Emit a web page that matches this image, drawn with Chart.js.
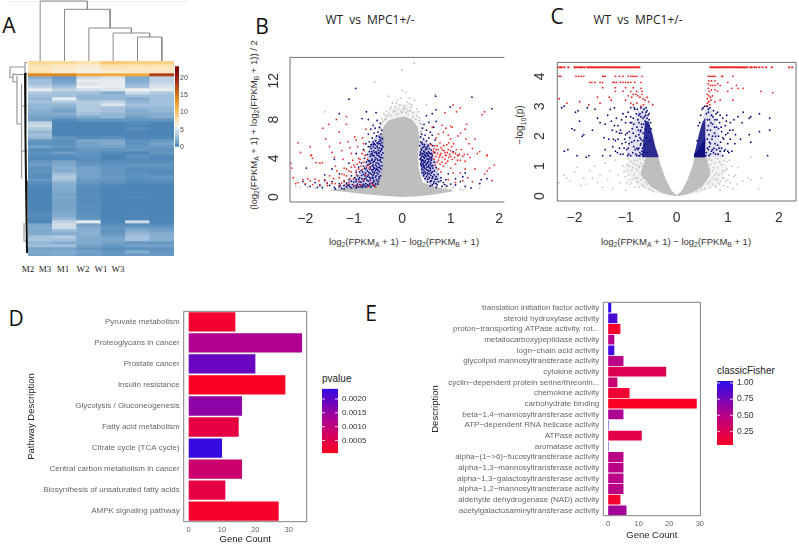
<!DOCTYPE html>
<html>
<head>
<meta charset="utf-8">
<script src="https://cdn.jsdelivr.net/npm/chart.js@4"></script>
<style>
  html, body { margin: 0; background: #fff; overflow: hidden; }
  #page { position: relative; width: 799px; height: 545px; }
  canvas { position: absolute; filter: blur(0.45px); }
  .t { position: absolute; white-space: nowrap; font-family: "Liberation Sans", sans-serif; color: #333; transform: translate(-50%, -50%); }
  .t sub { font-size: 70%; line-height: 0; }
  .panel { font-family: "Open Sans", sans-serif; font-size: 21px; color: #111; }
  .head { font-family: "Open Sans", sans-serif; font-size: 12px; color: #222; word-spacing: 3px; }
  .col { font-family: "Liberation Serif", serif; font-size: 9px; color: #222; }
  .rot { transform: translate(-50%, -50%) rotate(-90deg); }
  .leg { font-size: 10px; color: #222; transform: translate(0, -50%); }
</style>
</head>
<body>
<div id="page">
  <div style="position:absolute;left:8px;top:1px;width:180px;height:1px;background:#eee"></div>
  <div class="t panel" style="left:9px;top:25px">A</div>
  <div class="t panel" style="left:262px;top:26px">B</div>
  <div class="t panel" style="left:557px;top:16px">C</div>
  <div class="t panel" style="left:16px;top:318px">D</div>
  <div class="t panel" style="left:371px;top:313px">E</div>
  <div class="t head" style="left:370px;top:19px">WT vs MPC1+/-</div>
  <div class="t head" style="left:638px;top:19px">WT vs MPC1+/-</div>
  <div class="t col" style="left:28px;top:269px">M2</div>
  <div class="t col" style="left:45px;top:269px">M3</div>
  <div class="t col" style="left:63px;top:269px">M1</div>
  <div class="t col" style="left:83px;top:269px">W2</div>
  <div class="t col" style="left:101px;top:269px">W1</div>
  <div class="t col" style="left:118px;top:269px">W3</div>
  <div class="t rot" style="left:253px;top:125px;font-size:9.5px">(log<sub>2</sub>(FPKM<sub>A</sub> + 1) + log<sub>2</sub>(FPKM<sub>B</sub> + 1)) / 2</div>
  <div class="t" style="left:404px;top:241px;font-size:9.5px">log<sub>2</sub>(FPKM<sub>A</sub> + 1) &minus; log<sub>2</sub>(FPKM<sub>B</sub> + 1)</div>
  <div class="t rot" style="left:519px;top:125px;font-size:10px">&minus;log<sub>10</sub>(p)</div>
  <div class="t" style="left:676px;top:241px;font-size:9.5px">log<sub>2</sub>(FPKM<sub>A</sub> + 1) &minus; log<sub>2</sub>(FPKM<sub>B</sub> + 1)</div>
  <div class="t leg" style="left:322px;top:378px">pvalue</div>
  <div class="t leg" style="left:717px;top:370px">classicFisher</div>
</div>
<script>
// panel A
const heatColumns = ['M2', 'M3', 'M1', 'W2', 'W1', 'W3'];
const heatRows = [
  [8.6,8.6,8,9.6,9.2,9.2],[8,7.4,7,8,8,8],[7.6,7.2,6.6,7.4,7.4,7.4],[8,7,6.6,7,7.4,7.4],[14,14,12,12,12,18],
  [2.2,1.2,4.5,5,1.8,4],[3,1.5,5.5,5.5,2,4],[3,2,5,5.5,2.5,4.5],[4,3,5.8,5.5,3,5],[5.5,4,4.5,5,5.8,5.5],
  [3.5,3,3,2,4.5,3.5],[3,3,2.5,2.5,3,3],[2.5,5.5,2.5,2.5,2,3],[3,3.5,3.5,4,2.5,3],[2.5,2.5,3.5,5,3,3],
  [2.5,2,3.5,3,2.5,2.5],[2,1.5,3.5,3,2,2.5],[2,2,3,2.5,2,2],[1.5,1.5,2,2.5,1.5,2],[1.5,0.5,1,1,1,1],
  [4,0.2,0.2,0.2,0.5,0.2],[4.5,0.2,0.2,0.2,0.3,0.2],[3.5,0.2,0.2,0.2,0.6,0.2],[2.5,0.2,0.2,0.2,0.2,0.2],[3,0.2,0.2,0.2,0.3,0.2],
  [2.5,1,0.5,0.7,0.3,0.3],[1,0.7,1.8,1.8,0.8,1.2],[0.8,0.8,1.5,2,0.8,1.5],[1.5,1,1.5,1.5,1,1.2],[0.5,0.5,1,1,1,0.8],
  [0.8,1.3,0.8,0.5,0.3,1],[0.5,0.5,0.8,0.2,0.8,0.4],[0.4,0.4,0.5,0.2,0.5,0.3],[1,1.6,0.8,0.6,0.5,0.5],[1.3,1.8,1,0.8,1,1],
  [0.8,2.2,1.5,1,0.7,0.7],[0.9,2,1.5,1,0.5,0.5],[0.8,2.8,1.6,1,0.8,0.5],[0.5,3.5,1.5,1.2,0.8,1],[1,3.2,1.2,1,0.6,0.8],
  [0.6,2.2,1,0.7,0.4,0.4],[0.3,2,0.6,0.3,0.2,0.2],[0.2,2,0.5,0.2,0.2,0.2],[0.2,1.8,0.5,0.2,0.3,0.2],[0.2,1.5,0.5,0.2,0.2,0.2],
  [0.2,1.8,0.6,0.2,0.4,0.2],[0.2,1.6,0.5,0.2,0.2,0.2],[0.2,1.6,0.5,0.2,0.2,0.2],[0.2,1.5,0.7,0.2,0.2,0.2],[0.2,1.6,0.5,0.2,0.3,0.2],
  [0.5,1.8,0.7,0.2,0.2,0.2],[0.5,2,0.7,0.2,0.2,0.2],[0.4,2.5,1,0.2,0.3,0.2],[0.3,4,5.5,0.2,4.5,0.2],[1.8,4.5,1.5,0.6,0.6,0.5],
  [2,4.5,2,1,1.3,1.2],[1.8,2.5,2.2,0.8,2,1.5],[2,2,2.2,1,2.5,2],[3,3.5,2,1.5,3,2.2],[3.2,3,1.8,1.8,3,2.2],
  [2.5,2,2,1.5,1,1],[2.8,3,1.5,1,1.5,1.5],[1.5,1.5,1,0.6,0.8,0.8],[1.8,2,1.5,1,2,1],[1.6,1.8,1.3,1,1.2,1.2]
];
const heatTicks = [0, 5, 10, 15, 20];
// column tree: [column, height] polylines
const topTree = [
  [[4.5,0],[4.5,24],[5.5,24],[5.5,0]],
  [[3.5,0],[3.5,28],[5,28],[5,24]],
  [[2.5,0],[2.5,33],[4.25,33],[4.25,28]],
  [[1.5,0],[1.5,51.7],[3.375,51.7],[3.375,33]],
  [[0.5,0],[0.5,60],[2.44,60],[2.44,51.7]]
];
// row tree: [height, row] polylines
const sideTree = [
  [[18,0.5],[16,0.5],[16,4],[18,4]],
  [[16,2],[1,2],[1,5.5],[4,5.5]],
  [[4,4],[4,7],[8,7]],
  [[4,4.5],[18,4.5]],
  [[8,5],[8,21],[12.5,21]],
  [[12.5,7.5],[12.5,39],[13.5,39]],
  [[13.5,15],[18,15]],
  [[12.5,30],[18,30]],
  [[16,39],[17.5,39],[17.5,54]],
  [[15,54],[15,60],[18,60]]
];
const sideStem = [[16,4],[16.3,10],[16.6,25],[17,40],[17.6,54],[18,64]];

// panel B
const bCoreTop = [-1.5,0.75,-1.2,0.95,-0.9,1.1,-0.65,1.3,-0.46,2,-0.4,3.5,-0.38,5,-0.42,6.3,-0.38,7.3,-0.28,7.9,-0.1,8.2,0.05,8.3,0.2,8,0.32,7.2,0.36,6,0.33,4.6,0.34,3,0.42,1.5,0.7,1.05,1.05,0.65];
const bCoreBottom = [-1.5,0.7,-1.1,0.5,-0.7,0.28,-0.35,0.12,0,0.02,0.35,0.1,0.7,0.3,1.05,0.6];
const bHaloTop = [-0.45,6,-0.42,7.5,-0.3,8.8,-0.1,9.6,0.1,9.6,0.3,8.8,0.4,7.5,0.42,6];
const bHaloBottom = [-0.45,6,0.42,6];
const bLeftDenseTop = [-1.3,1,-1,2,-0.8,2.8,-0.72,4.2,-0.66,5.5,-0.55,6.3,-0.42,6.6,-0.38,6];
const bLeftDenseBottom = [-1.3,1,-1,0.9,-0.7,1,-0.55,1.1,-0.47,1.5,-0.42,2.5,-0.38,4,-0.38,6];
const bRightDenseTop = [0.36,5.5,0.42,6,0.5,5.7,0.58,5.2,0.65,4.5,0.7,3.5,0.75,2.5,0.8,1.5];
const bRightDenseBottom = [0.36,5.5,0.36,3.5,0.4,2.2,0.5,1.6,0.6,1.2,0.8,1.5];
const bGrey = [0,13.1,0.25,13.8,-0.57,11.9,-0.28,10.4,0.07,10.8,0.15,10.2,-0.1,10,0,11,0.1,9.8,-0.2,9.7,0.25,10,-0.05,9.5,0.05,9.4,-0.15,9.3,0.18,9.3,0.3,9.1,-0.25,9.1,0.02,9,-0.08,9.1,0.12,8.9,-0.32,8.9,-0.38,8.6,0.22,8.7,-0.18,8.8,0.08,8.7,-0.03,8.8,0.3,8.4,-0.3,8.4,-0.42,8.1,0.36,7.9,0.4,7.5,-0.45,7.6,-0.48,7,0.4,6.8,-0.47,6.4,0.42,6.4,-1.6,8.8,0.5,9.5,0.68,10.6,0.72,1,0.9,0.95,1.2,0.85,1.25,0.7,1.6,1.4,1.6,0.95,-2.1,1,-2.2,1.1,-1.95,1,-1.8,0.95,-1.65,0.85,0.85,1.3,0.7,1.5,0.6,1.7,0.55,2.1,1.05,1,1,0.8,0.78,0.7,0.55,1,0.5,1.3,0.48,1.8,-0.55,1,-0.6,1.1,-0.75,0.8,-0.85,0.9];
const bGreyExtra = [-0.33,8.1,-0.22,8.4,-0.12,8.5,0,8.7,0.12,8.5,0.22,8.3,0.28,8,0.35,8.2,-0.27,8.6,-0.15,8.9,0.03,9.2,0.17,8.9,-0.4,7.8,-0.36,8,0.37,7.6,0.4,7.1,-0.44,7.1,-0.42,6.7,0.38,6.7,0.15,9.6,-0.03,10.2,-0.12,9.7,0.2,9.5,0.33,8.8,-0.23,9.3,-0.35,8.4,0.08,9.1,-0.08,8.6];
const bBlue = [-0.45,7.6,-0.52,7.9,-0.6,7.4,-0.47,7.2,-0.56,7.1,-0.65,7,-0.42,6.9,-0.5,6.7,-0.58,6.6,-0.44,6.5,-0.7,6.5,-0.53,6.3,-0.47,6.2,-0.62,6.1,-0.41,6,-0.46,5.9,-0.55,5.8,-0.68,5.7,-0.6,5.7,-0.42,5.6,-0.5,5.5,-0.58,5.5,-0.64,5.4,-0.75,5.5,-0.44,5.35,-0.52,5.25,-0.6,5.2,-0.7,5.2,-0.4,5.15,-0.47,5.05,-0.56,5.05,-0.64,5,-0.8,4.9,-0.42,4.9,-0.5,4.85,-0.59,4.8,-0.68,4.7,-0.45,4.7,-0.54,4.65,-0.4,4.55,-0.48,4.5,-0.62,4.5,-0.72,4.4,-0.43,4.35,-0.52,4.35,-0.58,4.25,-0.66,4.2,-0.47,4.15,-0.41,4.05,-0.55,4.05,-0.78,4,-0.62,3.95,-0.45,3.9,-0.5,3.8,-0.7,3.75,-0.58,3.7,-0.43,3.6,-0.54,3.55,-0.65,3.5,-0.84,3.5,-0.48,3.4,-0.6,3.35,-0.72,3.3,-0.42,3.25,-0.53,3.2,-0.66,3.1,-0.9,3.1,-0.47,3.05,-0.58,3,-0.78,3,-0.44,2.9,-0.52,2.85,-0.63,2.8,-0.72,2.7,-0.85,2.75,-0.47,2.6,-0.57,2.55,-0.95,2.55,-0.66,2.45,-0.5,2.35,-0.8,2.35,-0.6,2.25,-0.45,2.2,-0.72,2.15,-1.05,2.2,-0.55,2.05,-0.88,2,-0.65,1.95,-0.48,1.9,-0.78,1.85,-0.95,1.8,-1.1,1.8,-0.58,1.7,-0.7,1.65,-0.5,1.6,-0.85,1.55,-1,1.55,-1.2,1.6,-0.62,1.45,-0.75,1.4,-0.55,1.35,-0.92,1.35,-1.1,1.3,-1.3,1.4,-0.68,1.25,-0.82,1.2,-1,1.15,-0.58,1.15,-0.75,1.05,-0.9,1.05,-1.15,1.05,-1.3,1.05,-1.4,1,-0.65,1.05,-0.82,1,-1.25,0.9,-1.05,0.95,-1.38,0.85,-1.2,0.85,-0.95,0.95,-1.5,1.2,-1.6,1.7,-1.7,1.2,-1.8,1.5,-1.9,1.1,-2,1.3,-2.05,1.6,-1.75,1,-1.55,1.45,-1.45,1.6,-1.65,1,-1.1,10.1,-0.96,11.2,-1.3,8.6,-0.74,8.8,-0.83,8.1,-0.54,8.7,-0.7,8,-1.4,3.9,-0.95,4.5,-1.1,3.5,-1.3,2.4,-1.45,2.9,-1.98,3,-1.6,2.3,
  0.5,8.4,0.62,8.6,0.7,7.8,0.55,7.7,0.45,7.5,0.65,7.2,0.42,7.1,0.5,6.9,0.58,6.7,0.4,6.5,0.47,6.4,0.62,6.4,0.38,6.2,0.55,6.1,0.44,6,0.68,5.9,0.5,5.8,0.4,5.6,0.58,5.5,0.46,5.4,0.36,5.3,0.63,5.3,0.52,5.2,0.42,5.1,0.56,5,0.39,4.95,0.48,4.9,0.6,4.85,0.44,4.75,0.54,4.7,0.37,4.65,0.66,4.6,0.5,4.55,0.41,4.5,0.58,4.45,0.46,4.4,0.36,4.35,0.53,4.3,0.62,4.25,0.43,4.2,0.49,4.15,0.39,4.1,0.57,4.05,0.46,4,0.53,3.95,0.37,3.9,0.42,3.85,0.6,3.8,0.48,3.75,0.55,3.7,0.4,3.65,0.66,3.6,0.45,3.55,0.52,3.5,0.38,3.45,0.58,3.4,0.43,3.35,0.49,3.3,0.63,3.25,0.4,3.2,0.54,3.15,0.46,3.1,0.7,3.05,0.42,3,0.58,2.95,0.5,2.85,0.44,2.75,0.66,2.7,0.55,2.65,0.41,2.55,0.6,2.5,0.48,2.45,0.74,2.35,0.52,2.3,0.44,2.2,0.63,2.1,0.56,2,0.8,2,0.47,1.9,0.68,1.85,0.9,1.8,0.6,1.7,0.75,1.6,0.52,1.55,0.85,1.5,0.65,1.4,1,1.35,0.72,1.25,0.58,1.15,0.82,1.1,0.92,1.15,1.1,1.25,0.7,1,1.2,1.6,1.3,1.1,1.42,0.95,1.1,1.9,1.25,2.1,0.95,2.4,0.69,10.4,1.44,10.3,1.85,9.1,0.99,9.3,0.7,9,1.63,1.8,1.75,1.9,1.6,1.4,1.05,4.7,1.3,2.5];
const bBlueExtra = [-0.41,5.3,-0.43,5,-0.45,4.8,-0.49,4.6,-0.51,5.1,-0.53,4.5,-0.57,4.6,-0.61,4.3,-0.63,4.7,-0.65,4.4,-0.49,4.25,-0.44,4.1,-0.46,3.75,-0.52,3.95,-0.56,3.85,-0.6,3.6,-0.63,3.8,-0.67,3.7,-0.5,3.5,-0.46,3.2,-0.55,3.3,-0.59,3.1,-0.62,3.2,-0.68,3.4,-0.74,3.6,-0.5,3.05,-0.54,2.95,-0.6,2.85,-0.67,2.9,-0.75,2.9,-0.8,3.2,-0.49,2.75,-0.55,2.75,-0.61,2.6,-0.69,2.55,-0.76,2.5,-0.82,2.6,-0.88,2.6,-0.52,2.5,-0.58,2.4,-0.63,2.35,-0.7,2.3,-0.77,2.2,-0.84,2.25,-0.92,2.2,-0.48,2.1,-0.54,2.2,-0.61,2.05,-0.68,2.05,-0.75,1.95,-0.83,1.9,-0.9,1.85,-0.98,2,-0.53,1.8,-0.6,1.9,-0.66,1.75,-0.73,1.75,-0.8,1.65,-0.88,1.6,-0.95,1.6,-1.05,1.65,-1.15,1.45,-0.5,1.35,-0.6,1.55,-0.67,1.4,-0.72,1.25,-0.8,1.35,-0.87,1.3,-0.95,1.2,-1.03,1.3,-1.12,1.2,-1.2,1.2,-1.28,1.2,-0.6,1.25,-0.7,1.15,-0.78,1.2,-0.86,1.1,-0.94,1.1,-1.08,1.1,-0.44,6.1,-0.48,5.7,-0.52,5.6,-0.56,5.4,-0.6,5.45,-0.66,5.2,-0.44,5.8,-0.46,5.5,
  0.38,5.7,0.42,5.45,0.45,5.2,0.49,5.1,0.51,4.95,0.54,5.35,0.4,4.85,0.46,4.65,0.43,4.5,0.52,4.5,0.56,4.55,0.6,4.5,0.38,4.45,0.48,4.3,0.41,4.25,0.55,4.2,0.6,4.1,0.45,4.1,0.38,3.95,0.51,3.9,0.44,3.75,0.56,3.9,0.61,3.95,0.4,3.8,0.47,3.6,0.53,3.6,0.59,3.55,0.42,3.45,0.5,3.4,0.55,3.3,0.39,3.3,0.45,3.25,0.6,3.2,0.51,3.1,0.43,3.1,0.56,3.05,0.63,3,0.47,2.95,0.53,2.75,0.4,2.85,0.58,2.75,0.62,2.6,0.47,2.6,0.43,2.5,0.52,2.5,0.56,2.4,0.66,2.3,0.45,2.35,0.59,2.25,0.5,2.1,0.7,2.1,0.62,1.95,0.53,1.85,0.72,1.85,0.58,1.6,0.66,1.6,0.8,1.7,0.7,1.4,0.62,1.25,0.88,1.3];
const bRed = [-2.3,3.5,-2.28,3,-2.25,2,-2.15,5.6,-2.1,4.6,-2.05,1.8,-1.95,1.9,-1.9,5.2,-1.88,4.3,-1.85,4,-1.78,3.55,-1.7,3.5,-1.65,3.55,-1.64,7.1,-1.58,6,-1.52,7.5,-1.5,5.2,-1.45,4.6,-1.4,4.1,-1.38,3.2,-1.36,8,-1.3,6.7,-1.28,5.6,-1.25,4.8,-1.22,3.9,-1.2,3,-1.15,8.3,-1.15,7.5,-1.12,5.7,-1.08,5.1,-1.05,4.5,-1.02,3.8,-1,3.3,-0.98,6.2,-0.95,5.9,-0.92,5.2,-0.9,4,-0.88,3.6,-0.85,3.2,-0.82,6.1,-0.8,5.5,-0.78,4.8,-0.76,4.3,-0.75,7,-0.72,3.9,-0.7,3.3,-0.68,3,-2,1.4,-1.9,1.7,-1.8,1.85,-1.7,1.3,-1.6,1.8,-1.55,1.2,-1.5,2.2,-1.45,1.4,-1.35,2.7,-1.3,2,-1.25,2.4,-1.2,1.7,-1.15,2.2,-1.1,1.5,-1.05,2.6,-1,1.9,-1,1.2,-0.95,2.3,-0.9,1.6,-0.85,1.3,-0.8,1.8,-0.75,2.3,-0.7,1.1,-0.65,1.5,-0.6,1.25,-0.55,1.05,
  0.6,5.4,0.65,5,0.68,4.6,0.62,4.4,0.7,4.2,0.66,3.9,0.75,3.8,0.72,5.3,0.78,5.6,0.74,4.9,0.8,4.5,0.76,4.1,0.82,3.6,0.85,3.2,0.8,5.1,0.86,4.8,0.9,4.3,0.88,3.9,0.92,5.4,0.95,4.9,0.98,4.4,0.94,3.7,1,6,1.02,5.2,1.05,4.6,1.08,4.1,1.1,3.4,1.12,4.9,1.15,4.3,1.18,4.4,1.2,3.8,1.25,4.2,0.9,7.1,0.95,6.4,0.85,6.7,0.75,6.5,0.7,6.1,0.82,7.4,1,7.3,1.03,7.2,0.62,7.2,1.12,8.8,1.2,9.2,1.05,9.5,0.88,8.7,1.3,7,1.33,7.5,1.2,6.6,1.15,6.3,1.32,6,1.38,5.5,1.45,5,1.5,6,1.55,4.5,1.6,4.7,1.65,8.5,1.7,8.8,1.75,4.3,1.8,3,1.75,2.7,1.85,1.7,1.9,3.3,1.4,4.1,1.3,2.9,1.2,2.5,1.35,2,1.45,1.6,1.5,2.9,1,3,1.05,2.5,0.95,1.8,1.1,1.5,1.25,1.7,0.8,2.6,0.75,2.9,0.68,3.3,1.7,2.4];
const bRedExtra = [-0.98,3.1,-0.93,3.4,-0.87,3.9,-0.83,4.5,-0.79,3.6,-0.74,3.1,-0.95,2.75,-0.9,2.9,-0.82,2.85,-1.05,3.1,-1.1,2.7,-1.15,2.9,-1.2,2.3,-1.08,1.9,-0.92,1.15,-1.15,1.3,-1.25,1.45,-1.3,1.2,-1.38,1.4,-1.42,1.9,-1.55,1.5,-1.72,1.7,-1.85,1.3,-2.15,1.5,-2.2,1.4,
  0.64,4.75,0.67,5.3,0.7,4.9,0.73,4.5,0.72,3.6,0.78,4.3,0.78,3.4,0.83,4.1,0.83,4.9,0.86,5.3,0.88,4.6,0.9,3.5,0.93,4.6,0.96,4.1,0.96,5.6,1,4.8,1,4.2,1.03,3.9,1.06,5.5,1.1,4.5,1.14,3.8,1.22,4.9,1.28,4.4,1.3,3.7,1.35,4.4];

// panel C
const cCoreTop = [-0.7,0.8,-0.6,1.3,-0.36,1.3,-0.3,0.95,-0.2,0.5,-0.1,0.18,0,0.03,0.1,0.18,0.2,0.5,0.3,0.95,0.35,1.3,0.58,1.3,0.66,0.8];
const cCoreBottom = [-0.7,0.7,-0.6,0.5,-0.5,0.3,-0.4,0.2,-0.3,0.12,-0.2,0.06,-0.1,0.02,0,0,0.1,0.02,0.2,0.06,0.3,0.12,0.4,0.2,0.5,0.32,0.66,0.7];
const cHaloTop = [-1.05,0.9,-0.9,1.3,-0.36,1.3,-0.3,0.95,-0.2,0.5,-0.1,0.18,0,0.03,0.1,0.18,0.2,0.5,0.3,0.95,0.35,1.3,0.88,1.3,1,0.9];
const cHaloBottom = [-1.05,0.9,-0.8,0.4,-0.6,0.2,-0.3,0.05,0,0,0.3,0.05,0.6,0.2,0.8,0.4,1,0.9];
const cLeftWedgeTop = [-0.68,1.3,-0.66,1.7,-0.64,2.1,-0.62,2.5,-0.55,2.5,-0.48,2.1,-0.42,1.65,-0.35,1.3];
const cLeftWedgeBottom = [-0.68,1.3,-0.35,1.3];
const cRightWedgeTop = [0.33,1.3,0.38,1.65,0.44,2.1,0.5,2.45,0.55,2.6,0.58,2.6,0.6,2.3,0.58,2,0.56,1.6,0.56,1.3];
const cRightWedgeBottom = [0.33,1.3,0.56,1.3];
const cLeftFanTop = [-1,1.3,-0.9,2.2,-0.8,2.7,-0.68,3,-0.62,3,-0.5,2.25,-0.35,1.3];
const cLeftFanBottom = [-1,1.3,-0.35,1.3];
const cRightFanTop = [0.33,1.3,0.45,2.15,0.58,3,0.68,2.9,0.8,2.3,0.9,1.3];
const cRightFanBottom = [0.33,1.3,0.9,1.3];
const cGrey = [-2.3,0.45,-2.2,0.7,-2.15,0.6,-2.08,0.5,-2,0.8,-1.95,0.95,-1.88,0.35,-1.82,0.6,-1.78,0.4,-1.7,0.85,-1.65,0.6,-1.6,1,-1.55,0.45,-1.5,0.7,-1.45,0.3,-1.4,1.1,-1.35,0.55,-1.3,0.85,-1.25,0.25,-1.2,1.2,-1.15,0.7,-1.1,0.45,-1.05,1,-1,0.2,-1,0.65,-0.95,1.25,-0.92,0.4,-0.88,0.85,-0.85,1.1,-0.82,0.3,-0.8,0.6,-0.78,1.2,-0.75,0.45,-0.73,0.95,-0.72,1.25,-0.68,0.4,-0.66,0.6,-0.64,1.05,-0.62,0.3,-0.58,0.4,-0.55,0.25,-0.5,0.2,-0.45,0.15,0.4,0.15,0.48,0.22,0.55,0.25,0.6,0.4,0.65,0.3,0.68,1.2,0.7,0.6,0.72,0.95,0.75,0.3,0.78,0.75,0.8,1.25,0.82,0.45,0.85,0.2,0.88,1.05,0.9,0.6,0.92,0.35,0.95,0.85,0.98,1.15,1,0.3,1.02,0.7,1.05,0.45,1.08,1,1.1,0.25,1.12,0.65,1.15,0.7,1.18,0.4,1.2,0.95,1.3,0.5,1.4,0.6,1.45,0.55,1.65,0.6,1.6,0.25,1.45,1.3,0.55,1.05,-0.55,0.6,-0.45,0.35,0.42,0.3];
const cGreyExtra = [-0.62,1.2,-0.66,1.25,-0.7,1.1,-0.74,1,-0.76,0.85,-0.8,1.05,-0.84,0.7,-0.86,0.95,-0.9,1.15,-0.94,0.7,-0.97,1.05,-1.03,0.8,-0.62,0.45,-0.66,0.35,-0.7,0.55,-0.74,0.3,-0.78,0.5,-0.82,0.6,-0.88,0.45,-0.93,0.55,-0.98,0.45,-0.72,0.75,-0.68,1,-0.76,0.6,-0.79,0.9,-0.83,1.2,-0.87,0.55,-0.92,1,-0.96,0.85,
  0.6,1.2,0.64,1.25,0.66,1.05,0.7,0.85,0.74,1.1,0.76,0.55,0.8,0.95,0.82,0.7,0.84,1.15,0.87,0.5,0.9,0.85,0.93,1.2,0.96,0.5,0.99,0.9,1.03,1.2,0.62,0.45,0.66,0.5,0.7,0.4,0.74,0.7,0.78,0.35,0.8,0.55,0.84,0.4,0.88,0.75,0.92,0.6,1,0.55];
const cBlue = [-2.25,2.95,-2.2,3,-1.98,2.8,-1.93,2.85,-1.9,2.5,-2.05,2.25,-2,2.2,-1.85,2,-1.82,2.05,-2.13,1.55,-2.2,1.5,-1.95,1.35,-1.77,1.3,-1.72,1.35,-1.65,2.2,-1.6,2.9,-1.75,2.95,-1.55,2.6,-1.5,2.45,-1.42,1.95,-1.4,2.4,-1.35,2.7,-1.3,2.9,-1.26,2.2,-1.22,2.95,-1.2,1.85,-1.18,2.6,-1.15,2.35,-1.12,1.6,-1.1,1.4,-1.08,2.1,-1.05,2.75,-1.02,1.9,-1,2.45,-0.98,1.55,-0.96,1.35,-0.95,2.8,-0.93,2.15,-0.9,2.65,-0.88,1.8,-0.86,1.45,-0.84,2.4,-0.82,2.9,-0.8,2,-0.78,1.6,-0.76,2.55,-0.75,2.2,-0.74,1.35,-0.72,2.75,-0.7,1.9,-0.7,2.95,-0.69,2.4,-0.68,1.5,-0.66,2.6,-0.66,2.1,-0.64,2.9,-0.63,1.7,-0.62,2.5,-0.61,2.25,-0.6,2.8,-0.59,1.95,-0.58,2.6,-0.57,1.45,-0.56,2.35,-0.55,2.15,-0.54,2.75,-0.52,1.85,-0.51,2.45,-0.5,2.25,-0.72,1.45,-0.76,1.55,-0.8,1.4,-0.84,1.65,-0.9,1.35,-0.95,1.6,-1,1.8,-1.05,1.4,-1.1,2.2,-1.2,1.5,-1.3,1.35,-1.4,1.55,-1.45,1.35,-1.25,1.65,-1.15,1.9,-0.92,1.95,-0.85,2.1,-0.78,2.3,-0.74,2.05,-0.7,1.75,-0.67,1.6,-0.64,1.45,
  0.36,1.4,0.4,1.85,0.42,2.35,0.45,2.45,0.47,2.7,0.5,2.9,0.52,2.95,0.55,3,0.6,3,0.62,2.8,0.64,2.55,0.65,2.95,0.66,2.2,0.68,2.7,0.69,1.9,0.7,2.4,0.72,2.85,0.73,1.6,0.74,2.1,0.75,2.55,0.76,1.4,0.78,2.3,0.8,1.7,0.8,2.8,0.82,2,0.84,2.45,0.85,1.5,0.86,1.8,0.88,2.15,0.9,2.6,0.9,1.35,0.92,1.9,0.95,2.35,0.95,1.55,0.98,2.7,1,1.75,1,2.1,1.02,1.45,1.05,2.45,1.05,1.9,1.08,1.5,1.1,2.2,1.12,2.55,1.14,1.75,1.15,2.05,1.2,2.65,1.25,1.9,1.28,2.45,1.3,2.8,1.42,2.6,1.45,2.65,1.42,2.05,1.45,1.8,1.62,2.75,1.62,2.15,1.82,2.6,1.82,2.2,1.78,1.35,0.6,2.2,0.62,1.55,0.58,1.45,0.64,1.8,0.66,1.4,0.7,1.55];
const cBlueExtra = [-0.72,1.35,-0.74,1.6,-0.76,1.85,-0.71,2.15,-0.74,2.45,-0.7,2.65,-0.67,2.8,-0.65,2.4,-0.63,2.65,-0.61,2.7,-0.6,2.95,-0.58,2.85,-0.56,2.7,-0.54,2.55,-0.69,1.4,-0.71,1.7,-0.72,1.95,-0.7,2.2,-0.68,2.3,-0.67,1.85,-0.78,1.35,-0.81,1.55,-0.83,1.85,-0.87,2.25,-0.85,2.6,-0.83,2.95,-0.79,2.75,-0.77,2.9,-0.74,2.7,-0.88,2.45,-0.91,2.45,-0.93,1.75,-0.94,1.4,-0.97,2.1,-1,2.05,-1.03,1.6,-1.07,1.75,-1.12,2.1,-1.18,2.15,-1.24,1.9,-1.28,2.5,-1.33,1.9,-1.16,1.45,-1.22,2.35,-0.99,2.65,-1.08,2.55,-0.9,2.95,
  0.6,2.55,0.62,2.35,0.63,2.05,0.64,1.65,0.6,1.9,0.66,1.75,0.67,2.45,0.68,1.5,0.7,2,0.71,2.65,0.72,1.45,0.74,2.3,0.75,1.75,0.76,2,0.77,2.75,0.78,1.55,0.79,2.55,0.81,1.4,0.82,2.25,0.83,1.6,0.85,2.7,0.87,2.3,0.88,1.6,0.9,1.95,0.93,1.5,0.96,2.05,0.97,2.5,1,1.5,1.04,2.2,0.62,2.9,0.58,2.75,0.63,1.35,0.57,1.35,0.6,1.6];
const cRed = [-2.32,4.3,-2.28,4.3,-2.25,4.3,-2.2,4.3,-2.12,4.3,-2,4.3,-1.97,4.3,-1.93,4.3,-1.9,4.3,-1.87,4.3,-1.84,4.3,-1.8,4.3,-1.75,4.3,-1.72,4.3,-1.69,4.3,-1.66,4.3,-1.63,4.3,-1.6,4.3,-1.57,4.3,-1.54,4.3,-1.51,4.3,-1.48,4.3,-1.45,4.3,-1.42,4.3,-1.39,4.3,-1.36,4.3,-1.33,4.3,-1.3,4.3,-1.27,4.3,-1.24,4.3,-1.21,4.3,-1.18,4.3,-1.15,4.3,-1.12,4.3,-1.09,4.3,-1.06,4.3,-1.03,4.3,-1,4.3,-0.97,4.3,-0.94,4.3,-0.91,4.3,-0.88,4.3,-0.85,4.3,-0.82,4.3,-0.79,4.3,-0.76,4.3,-0.73,4.3,
  -2.3,4,-2.27,4,-1.97,4,-1.92,4,-1.87,4,-1.82,4,-1.45,4,-1.43,4,-1.4,4,-1.2,4,-1.12,4,-1.05,4,-0.95,4,-0.9,4,-0.86,4,-0.82,4,-0.78,4,-0.68,4,-1.7,3.8,-1.66,3.8,-1.6,3.8,-1.5,3.8,-1.45,3.8,-1.25,3.8,-1.22,3.8,-1.18,3.8,-1.1,3.8,-1.05,3.8,-1,3.8,-0.95,3.8,-0.9,3.8,-0.82,3.8,-0.7,3.8,-1.45,3.62,-1.2,3.62,-1,3.62,-0.85,3.62,-0.7,3.6,-1.2,3.5,-1.05,3.5,-0.9,3.5,-0.78,3.5,-0.68,3.5,-2.3,3.25,-1.55,3.3,-1.32,3.3,-1.28,3.2,-1,3.2,-0.95,3.35,-0.88,3.3,-0.85,3.4,-0.8,3.4,-0.76,3.35,-0.72,3.3,-0.68,3.4,-0.66,3.25,-0.62,3.2,-0.58,3.3,-0.55,3.15,-0.9,3.1,-0.85,3.05,-0.78,3.1,-0.7,3,-0.65,3.05,-0.47,3.05,-2.15,3.1,-1.9,3.15,-1.72,3.05,-1.5,3.1,
  0.66,4.3,0.69,4.3,0.72,4.3,0.75,4.3,0.78,4.3,0.81,4.3,0.84,4.3,0.87,4.3,0.9,4.3,0.93,4.3,0.96,4.3,0.99,4.3,1.02,4.3,1.05,4.3,1.08,4.3,1.11,4.3,1.14,4.3,1.17,4.3,1.2,4.3,1.23,4.3,1.26,4.3,1.29,4.3,1.32,4.3,1.35,4.3,1.38,4.3,1.44,4.3,1.47,4.3,1.52,4.3,1.56,4.3,1.62,4.3,1.68,4.3,1.75,4.3,1.86,4.3,2.2,4.3,2.26,4.3,
  0.62,4,0.65,4,0.69,4,0.72,4,0.75,4,0.88,4,0.9,4,1.1,4,0.63,3.85,0.68,3.85,0.75,3.85,0.62,3.75,0.66,3.7,0.7,3.7,0.75,3.7,0.8,3.75,0.85,3.7,1,3.8,1.17,3.7,1.2,3.6,1.3,3.6,1.08,3.6,0.62,3.6,0.64,3.5,0.68,3.55,0.75,3.55,0.8,3.5,1,3.5,1.65,3.5,1.88,3.45,0.6,3.4,0.63,3.35,0.66,3.3,0.7,3.35,0.6,3.25,0.63,3.15,0.67,3.2,0.6,3.1,0.65,3.05,0.75,3.15,0.85,3.2,1.1,3.2,0.58,3];

// panel D
const pathwayNames = ['Pyruvate metabolism', 'Proteoglycans in cancer', 'Prostate cancer', 'Insulin resistance', 'Glycolysis / Gluconeogenesis', 'Fatty acid metabolism', 'Citrate cycle (TCA cycle)', 'Central carbon metabolism in cancer', 'Biosynthesis of unsaturated fatty acids', 'AMPK signaling pathway'];
const pathwayCounts = [14, 34, 20, 29, 16, 15, 10, 16, 11, 27];
const pathwayP = [0.0002, 0.00125, 0.0019, 0.00005, 0.00155, 0.0004, 0.00235, 0.00085, 0.0004, 0.00015];

// panel E
const goNames = ['translation initiation factor activity', 'steroid hydroxylase activity', 'proton\u2212transporting ATPase activity, rot...', 'metallocarboxypeptidase activity', 'logn\u2212chain acid activity', 'glycolipid mannosyltransferase activity', 'cytokine activity', 'cyclin\u2212dependent protein serine/threonin...', 'chemokine activity', 'carbohydrate binding', 'beta\u22121,4\u2212mannosyltransferase activity', 'ATP\u2212dependent RNA helicase activity', 'ATPase activity', 'aromatase activity', 'alpha\u2212(1\u2212>6)\u2212fucosyltransferase activity', 'alpha\u22121,3\u2212mannosyltransferase activity', 'alpha\u22121,3\u2212galactosyltransferase activity', 'alpha\u22121,2\u2212mannosyltransferase activity', 'aldehyde dehydrogenase (NAD) activity', 'acetylgalactosaminyltransferase activity'];
const goCounts = [1, 3, 4, 2, 2, 5, 19, 3, 7, 29, 5, 0.15, 11, 0.15, 5, 5, 5, 5, 4, 6];
const goFisher = [1, 0.92, 0.06, 0.5, 0.95, 0.5, 0.25, 0.4, 0.1, 0.03, 0.55, 1, 0.2, 1, 0.5, 0.5, 0.5, 0.5, 0.08, 0.58];

const font = 'Liberation Sans';
Chart.defaults.animation = false;
Chart.defaults.font.family = font;
Chart.defaults.plugins.legend.display = false;
Chart.defaults.plugins.tooltip.enabled = false;

function pairs(flat) {
  const out = [];
  for (let i = 0; i < flat.length; i += 2) out.push({ x: flat[i], y: flat[i + 1] });
  return out;
}

function mix(stops, v) {
  let i = 1;
  while (i < stops.length - 1 && v > stops[i][0]) i++;
  const a = stops[i - 1], b = stops[i];
  const t = Math.max(0, Math.min(1, (v - a[0]) / (b[0] - a[0])));
  const c = [0, 1, 2].map(k => Math.round(a[1][k] + (b[1][k] - a[1][k]) * t));
  return `rgb(${c.join(',')})`;
}

const heatStops = [[0,[70,130,180]],[3,[163,193,220]],[6,[244,244,242]],[8,[253,227,176]],[10,[252,195,106]],[13,[233,155,40]],[16,[201,101,28]],[19,[165,42,26]],[23,[127,0,0]]];
const pStops = [[0,[255,0,30]],[0.0012,[180,0,140]],[0.0024,[50,10,230]]];
const fisherStops = [[0,[255,0,30]],[0.5,[185,0,135]],[1,[50,10,230]]];

function addCanvas(box) {
  const c = document.createElement('canvas');
  c.width = box[2]; c.height = box[3];
  c.style.left = box[0] + 'px'; c.style.top = box[1] + 'px';
  document.getElementById('page').appendChild(c);
  return c;
}

// box = [left, top, width, height], area = [left, top, right, bottom] in page pixels
function padFor(box, area) {
  return { top: area[1] - box[1], right: box[0] + box[2] - area[2], left: 0, bottom: 0 };
}

const frame = {
  id: 'frame',
  afterDatasetsDraw(chart, args, opts) {
    const { ctx, chartArea: a } = chart;
    ctx.save();
    ctx.strokeStyle = opts.color || '#777';
    ctx.lineWidth = 1;
    ctx.beginPath();
    if (opts.open) {
      ctx.moveTo(a.right, a.top); ctx.lineTo(a.left, a.top); ctx.lineTo(a.left, a.bottom); ctx.lineTo(a.right, a.bottom);
    } else {
      ctx.rect(a.left, a.top, a.right - a.left, a.bottom - a.top);
    }
    ctx.stroke();
    ctx.restore();
  }
};

const whiteMarks = {
  id: 'whiteMarks',
  afterDatasetsDraw(chart, args, opts) {
    if (!opts.on) return;
    const { ctx, chartArea: a, scales } = chart;
    ctx.save();
    ctx.strokeStyle = 'rgba(255,255,255,0.8)';
    scales.y.ticks.forEach(t => {
      const y = scales.y.getPixelForValue(t.value);
      ctx.beginPath();
      ctx.moveTo(a.left, y); ctx.lineTo(a.left + 3, y);
      ctx.moveTo(a.right - 3, y); ctx.lineTo(a.right, y);
      ctx.stroke();
    });
    ctx.restore();
  }
};

function polyChart(box, xr, yr, lines, color, width) {
  new Chart(addCanvas(box), {
    type: 'scatter',
    data: { datasets: lines.map(l => ({ data: l.map(p => ({ x: p[0], y: p[1] })), showLine: true, pointRadius: 0, borderColor: color, borderWidth: width, clip: false })) },
    options: {
      responsive: false,
      scales: { x: { display: false, min: xr[0], max: xr[1] }, y: { display: false, min: yr[0], max: yr[1], reverse: yr[2] } }
    }
  });
}

function volcano(box, area, xr, yr, yStep, yLabel, padY, sets) {
  new Chart(addCanvas(box), {
    type: 'scatter',
    data: { datasets: sets },
    plugins: [frame],
    options: {
      responsive: false,
      layout: { padding: padFor(box, area), autoPadding: false },
      plugins: { frame: { open: box === bBox, color: '#707070' } },
      scales: {
        x: {
          min: xr[0], max: xr[1],
          afterFit: s => { s.height = box[1] + box[3] - area[3]; },
          grid: { display: false, drawTicks: true, tickLength: 4, tickColor: '#555' },
          border: { display: false },
          ticks: { stepSize: 1, includeBounds: false, padding: 5, maxRotation: 0, color: '#333', font: { size: 14 }, callback: v => v < 0 ? '\u2212' + (-v) : '' + v }
        },
        y: {
          min: yr[0], max: yr[1],
          afterFit: s => { s.width = area[0] - box[0]; },
          grid: { display: false, tickLength: 4, tickColor: '#555' },
          border: { display: false },
          ticks: { stepSize: yStep, includeBounds: false, minRotation: 90, maxRotation: 90, crossAlign: 'center', padding: padY, color: '#333', font: { size: 14 }, callback: yLabel }
        }
      }
    }
  });
}

function dots(flat, color, order) {
  return {
    data: pairs(flat),
    pointRadius: c => (c.raw && c.raw.y === 4.3 ? 1.15 : 0.9),
    pointBorderWidth: 0, pointBackgroundColor: color, backgroundColor: color, order
  };
}
function blob(topFlat, bottomFlat, color, order) {
  return [
    { data: pairs(topFlat), showLine: true, borderWidth: 0, borderColor: 'transparent', pointRadius: 0, fill: '+1', backgroundColor: color, order },
    { data: pairs(bottomFlat), showLine: true, borderWidth: 0, borderColor: 'transparent', pointRadius: 0, order }
  ];
}

function hbars(box, area, names, counts, colors, xr, yTitle, labelSize, titlePad) {
  new Chart(addCanvas(box), {
    type: 'bar',
    data: { labels: names, datasets: [{ data: counts, backgroundColor: colors, barPercentage: 0.92, categoryPercentage: 1 }] },
    plugins: [frame],
    options: {
      indexAxis: 'y',
      responsive: false,
      layout: { padding: padFor(box, area), autoPadding: false },
      plugins: { frame: { color: '#7f7f7f' } },
      scales: {
        x: {
          min: xr[0], max: xr[1],
          afterFit: s => { s.height = box[1] + box[3] - area[3]; },
          grid: { display: false, tickLength: 2.5, tickColor: '#666' },
          border: { display: false },
          ticks: { stepSize: 10, includeBounds: false, padding: 1, maxRotation: 0, color: '#666', font: { size: 7.5 } },
          title: { display: true, text: 'Gene Count', color: '#222', font: { size: 9.5 }, padding: { top: 2, bottom: 0 } }
        },
        y: {
          afterFit: s => { s.width = area[0] - box[0]; },
          grid: { display: false, tickLength: 2.5, tickColor: '#666' },
          border: { display: false },
          ticks: { autoSkip: false, padding: 1.5, color: '#666', font: { size: labelSize } },
          title: { display: true, text: yTitle, color: '#222', font: { size: 9.5 }, padding: titlePad }
        }
      }
    }
  });
}

function colorBar(box, area, range, stops, step, fmt, size, labelColor, marks, pad) {
  new Chart(addCanvas(box), {
    type: 'bar',
    data: {
      labels: [''],
      datasets: [{
        data: [[range[0], range[1]]],
        barPercentage: 1, categoryPercentage: 1,
        backgroundColor(c) {
          const a = c.chart.chartArea;
          if (!a) return '#ccc';
          const g = c.chart.ctx.createLinearGradient(0, a.bottom, 0, a.top);
          for (let i = 0; i <= 20; i++) {
            const t = i / 20;
            g.addColorStop(t, mix(stops, range[0] + (range[1] - range[0]) * t));
          }
          return g;
        }
      }]
    },
    plugins: [whiteMarks],
    options: {
      responsive: false,
      layout: { padding: { top: area[1] - box[1], bottom: box[1] + box[3] - area[3], left: area[0] - box[0], right: 0 }, autoPadding: false },
      plugins: { whiteMarks: { on: marks } },
      scales: {
        x: { display: false },
        y: {
          position: 'right', min: range[0], max: range[1],
          afterFit: s => { s.width = box[0] + box[2] - area[2]; },
          grid: { display: false, tickLength: 0, tickColor: '#fff' },
          border: { display: false },
          ticks: { stepSize: step, includeBounds: false, padding: pad, color: labelColor, font: { size }, callback: fmt }
        }
      }
    }
  });
}

// A: heat map, one stacked dataset per row
new Chart(addCanvas([28, 61, 146, 195]), {
  type: 'bar',
  data: {
    labels: heatColumns,
    datasets: heatRows.map(row => ({
      data: row.map(() => 1),
      backgroundColor: row.map(v => mix(heatStops, v)),
      barPercentage: 1, categoryPercentage: 1
    }))
  },
  options: {
    responsive: false,
    scales: {
      x: { display: false, stacked: true },
      y: { display: false, stacked: true, min: 0, max: heatRows.length, reverse: true }
    }
  }
});
polyChart([28, 0, 146, 61], [0, 6], [0, 61], topTree, '#8a8a8a', 1);
polyChart([9, 61, 19, 195], [0, 19], [0, heatRows.length, true], sideTree, '#999', 1.2);
polyChart([9, 61, 19, 195], [0, 19], [0, heatRows.length, true], [sideStem], '#111', 2);
colorBar([175, 61, 16, 91], [175, 61, 179, 152], [0, 23.4], heatStops, 5,
  v => heatTicks.includes(v) ? '' + v : '', 7, '#444', false, 1);

// B
const bBox = [255, 45, 253, 185];
volcano(bBox, [290, 52, 508, 202], [-2.317, 2.11], [-0.5, 14.4], 2, v => v % 4 === 0 ? '' + v : '', 4, [
  dots(bRed.concat(bRedExtra), '#ef2b2b', 1),
  dots(bBlue.concat(bBlueExtra), '#0b0b80', 2),
  ...blob(bLeftDenseTop, bLeftDenseBottom, 'rgba(11,11,128,0.2)', 3),
  ...blob(bRightDenseTop, bRightDenseBottom, 'rgba(11,11,128,0.22)', 3),
  dots(bGrey.concat(bGreyExtra), '#bebebe', 4),
  ...blob(bCoreTop, bCoreBottom, '#bebebe', 5),
  ...blob(bHaloTop, bHaloBottom, 'rgba(190,190,190,0.2)', 6)
]);

// C
const cBox = [525, 45, 272, 185];
volcano(cBox, [557.3, 51.7, 796, 201], [-2.337, 2.335], [-0.165, 4.465], 1, v => '' + v, 9, [
  dots(cRed, '#f02020', 1),
  dots(cBlue.concat(cBlueExtra), '#0b0b80', 2),
  ...blob(cLeftWedgeTop, cLeftWedgeBottom, 'rgba(11,11,128,0.85)', 3),
  ...blob(cRightWedgeTop, cRightWedgeBottom, 'rgba(11,11,128,0.85)', 3),
  ...blob(cLeftFanTop, cLeftFanBottom, 'rgba(11,11,128,0.12)', 4),
  ...blob(cRightFanTop, cRightFanBottom, 'rgba(11,11,128,0.12)', 4),
  dots(cGrey.concat(cGreyExtra), '#c2c2c2', 5),
  ...blob(cCoreTop, cCoreBottom, '#bebebe', 6),
  ...blob(cHaloTop, cHaloBottom, 'rgba(190,190,190,0.2)', 7)
]);

// D
hbars([26, 305, 285, 240], [183.7, 309.3, 306.7, 521.7], pathwayNames, pathwayCounts,
  pathwayP.map(v => mix(pStops, v)), [-1.5, 35.4], 'Pathway Description', 8, { top: 0, bottom: 0 });
colorBar([322, 380, 60, 82], [322, 384.3, 338, 457.3], [0.00004, 0.00237], pStops, 0.0005,
  v => v.toFixed(4), 8, '#333', true, 4);

// E
hbars([430, 296, 275, 245], [603.3, 300.3, 701.3, 515.7], goNames, goCounts,
  goFisher.map(v => mix(fisherStops, v)), [-1.6, 30.2], 'Description', 8, { top: 0, bottom: 0 });
colorBar([717, 372, 50, 82], [717, 376, 733, 450.3], [0.04, 1.03], fisherStops, 0.25,
  v => v.toFixed(2), 8.5, '#333', true, 4);
</script>
</body>
</html>
